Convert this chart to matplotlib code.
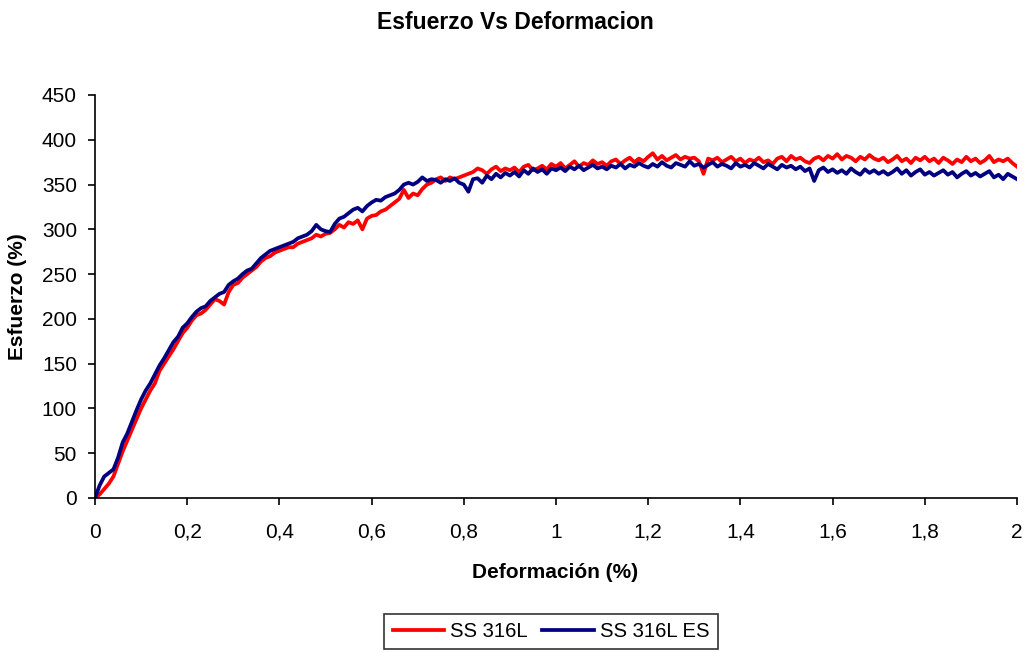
import numpy as np
import matplotlib
matplotlib.use('Agg')
import matplotlib.pyplot as plt
from matplotlib.ticker import FuncFormatter

plt.rcParams['font.family'] = ['Liberation Sans', 'DejaVu Sans']

# strain grid (%), one reading every 0.01
deformacion = np.round(np.arange(0, 2.001, 0.01), 2)

# stress, SS 316L
ss316l = [
    0, 4, 10, 16, 24, 38, 52, 64, 76, 88,
    100, 110, 120, 128, 142, 150, 158, 166, 175, 184,
    190, 198, 204, 206, 210, 216, 222, 220, 216, 230,
    238, 240, 246, 250, 254, 258, 264, 268, 270, 274,
    276, 278, 280, 280, 284, 286, 288, 290, 294, 292,
    295, 296, 300, 305, 302, 308, 306, 310, 300, 312,
    315, 316, 320, 322, 326, 330, 334, 344, 335, 340,
    338, 345, 350, 352, 356, 358, 354, 358, 356, 358,
    360,
    362, 364, 368, 366, 362, 367, 370, 365, 368, 366,
    369, 364, 370, 372, 366, 368, 371, 367, 373, 370,
    374, 368, 372, 376, 370, 374, 372, 377, 373, 375,
    371, 376, 378, 373, 377, 380, 375, 379, 376, 381,
    385, 378, 382, 377, 380, 383, 378, 381, 379, 380,
    376, 362, 379, 377, 380, 375, 378, 381, 376, 379,
    374, 378, 376, 380, 375, 377, 373, 379, 381, 376,
    382, 378, 380, 376, 374, 379, 381, 377, 382, 379,
    384, 378, 382, 380, 376, 381, 378, 383, 379, 377,
    380, 375, 378, 382, 376, 379, 374, 380, 377, 381,
    376, 379, 374, 380, 377, 373, 378, 375, 381, 376,
    379, 374, 377, 382, 375, 378, 376, 379, 374, 370,
]

# stress, SS 316L ES
ss316l_es = [
    0, 14, 24, 28, 32, 45, 62, 72, 85, 98,
    110, 120, 128, 138, 148, 156, 165, 174, 180, 190,
    195, 202, 208, 212, 214, 220, 224, 228, 230, 238,
    242, 245, 250, 254, 256, 262, 268, 272, 276, 278,
    280, 282, 284, 286, 290, 292, 294, 298, 305, 300,
    298, 297, 306, 312, 314, 318, 322, 324, 320, 326,
    330, 333, 332, 336, 338, 340, 344, 350, 352, 350,
    353, 358, 354, 356, 355, 352, 356, 354, 357, 352,
    350,
    342, 356, 357, 352, 360, 356, 362, 358, 363, 360,
    364, 359, 366, 362, 368, 364, 367, 362, 368, 366,
    369, 365, 370, 367, 371, 366, 369, 372, 368, 370,
    367, 371, 369, 373, 368, 372, 370, 374, 371, 369,
    373, 370, 375, 371, 369, 374, 372, 370, 376, 371,
    373, 369, 372, 375, 370, 373, 371, 368, 374, 370,
    372, 369, 374, 371, 368, 373, 370, 367, 372, 369,
    371, 367, 370, 365, 368, 354, 366, 369, 364, 367,
    363, 366, 362, 368, 364, 361, 367, 363, 366, 362,
    365, 361, 364, 368, 362, 366, 360, 364, 367, 361,
    364, 360, 363, 366, 361, 364, 358, 362, 365, 360,
    363, 359, 362, 365, 358, 361, 356, 362, 359, 356,
]

fig = plt.figure(figsize=(10.28, 6.52), dpi=100)
ax = fig.add_axes([0.0924, 0.2362, 0.8969, 0.6181])

ax.plot(deformacion, ss316l, color='#FF0000', lw=2.7, label='SS 316L')
ax.plot(deformacion, ss316l_es, color='#000080', lw=2.7, label='SS 316L ES')

ax.set_xlim(0, 2)
ax.set_ylim(0, 450)
ax.set_xticks(np.arange(0, 2.01, 0.2))
ax.set_yticks(np.arange(0, 451, 50))

# comma as decimal separator, like the spreadsheet
ax.xaxis.set_major_formatter(FuncFormatter(lambda v, p: ('%g' % round(v, 1)).replace('.', ',')))

for s in ['top', 'right']:
    ax.spines[s].set_visible(False)
for s in ['left', 'bottom']:
    ax.spines[s].set_linewidth(1.2)
ax.tick_params(direction='out', length=5, width=1.2, labelsize=15)
ax.tick_params(axis='x', pad=13)
ax.tick_params(axis='y', pad=8)

ax.set_xlabel('Deformación (%)', fontsize=15, fontweight='bold', va='center')
ax.xaxis.set_label_coords(0.499, -0.184)
ax.set_ylabel('Esfuerzo (%)', fontsize=15, fontweight='bold', va='center')
ax.yaxis.set_label_coords(-0.0845, 0.5)

fig.text(0.5015, 0.966, 'Esfuerzo Vs Deformacion', fontsize=16.5,
         fontweight='bold', ha='center', va='center')

leg = fig.legend(loc='upper center', bbox_to_anchor=(0.536, 0.058), ncol=2,
                 fontsize=14.6, frameon=True, fancybox=False, edgecolor='black',
                 handlelength=2.55, handletextpad=0.3, columnspacing=0.7,
                 borderpad=0.4, borderaxespad=0)
leg.get_frame().set_linewidth(1.2)

fig.savefig('out.png', dpi=100)
